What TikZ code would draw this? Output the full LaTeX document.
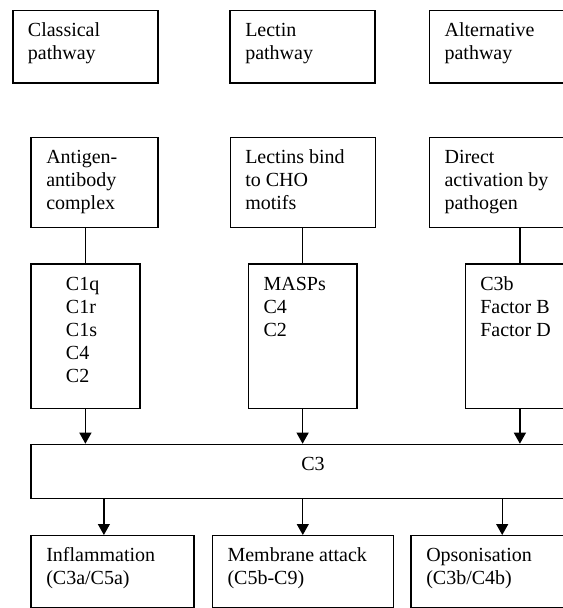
\documentclass[tikz,border=0pt]{standalone}
\usepackage{fontspec}
\setmainfont{Liberation Serif}
\usetikzlibrary{arrows.meta}
\newdimen\pxu
\pxu=0.75pt
\tikzset{
  box/.style={draw, line width=0.9pt, inner sep=0pt, anchor=north west},
  txt/.style={anchor=north west, inner sep=0pt, align=left, font=\fontsize{15pt}{17.25pt}\selectfont},
  conn/.style={line width=0.9pt},
  arr/.style={line width=0.9pt, -{Triangle[width=9pt,length=8.25pt]}},
}
\newcommand{\fl}{\rule{0pt}{12pt}}
\begin{document}
\begin{tikzpicture}[x=0.75pt,y=-0.75pt]
\useasboundingbox (0,0) rectangle (563,608);
\clip (0,0) rectangle (563,608);
% row 1
\node[box, minimum width=145\pxu, minimum height=72.6\pxu] (classical) at (12.3,9.7) {};
\node[box, minimum width=145\pxu, minimum height=72.6\pxu] (lectin) at (229.3,9.7) {};
\node[box, minimum width=145\pxu, minimum height=72.6\pxu] (alternative) at (428.7,9.7) {};
\node[txt] (tclassical) at (27.7,20) {\fl Classical\\pathway};
\node[txt] (tlectin) at (245,20) {\fl Lectin\\pathway};
\node[txt] (talternative) at (444.3,20) {\fl Alternative\\pathway};
% row 2
\node[box, minimum width=127\pxu, minimum height=90\pxu] (antigen) at (30.3,136.7) {};
\node[box, minimum width=145\pxu, minimum height=90\pxu] (lectins) at (229.7,136.7) {};
\node[box, minimum width=145\pxu, minimum height=90\pxu] (direct) at (428.7,136.7) {};
\node[txt] (tantigen) at (46,147.3) {\fl Antigen-\\antibody\\complex};
\node[txt] (tlectins) at (245,147.3) {\fl Lectins bind\\to CHO\\motifs};
\node[txt] (tdirect) at (444.3,147.3) {\fl Direct\\activation by\\pathogen};
% row 3
\node[box, minimum width=109\pxu, minimum height=144.4\pxu] (c1q) at (30.3,263.3) {};
\node[box, minimum width=108.6\pxu, minimum height=144.4\pxu] (masps) at (247.7,263.3) {};
\node[box, minimum width=108.6\pxu, minimum height=144.4\pxu] (c3b) at (465,263.3) {};
\node[txt] (tc1q) at (65.7,274.5) {\fl C1q\\C1r\\C1s\\C4\\C2};
\node[txt] (tmasps) at (263.3,274.5) {\fl MASPs\\C4\\C2};
\node[txt] (tc3b) at (480,274.5) {\fl C3b\\Factor B\\Factor D};
% C3
\node[box, minimum width=565.7\pxu, minimum height=54.3\pxu] (c3) at (30.3,443.7) {};
\node[anchor=base, inner sep=0pt, font=\fontsize{15pt}{17.25pt}\selectfont] (tc3) at (313,470.7) {C3};
% row 4
\node[box, minimum width=163\pxu, minimum height=71.6\pxu] (infl) at (30.3,535) {};
\node[box, minimum width=181\pxu, minimum height=71.6\pxu] (memb) at (211.7,535) {};
\node[box, minimum width=182.4\pxu, minimum height=71.6\pxu] (opso) at (410.4,535) {};
\node[txt] (tinfl) at (46,545) {\fl Inflammation\\(C3a/C5a)};
\node[txt] (tmemb) at (227.3,545) {\fl Membrane attack\\(C5b-C9)};
\node[txt] (topso) at (426,545) {\fl Opsonisation\\(C3b/C4b)};
% connectors
\draw[conn] (antigen.south -| c1q.north) -- (c1q.north);
\draw[conn] (lectins.south -| masps.north) -- (masps.north);
\draw[conn] (direct.south -| c3b.north) -- (c3b.north);
\draw[arr] (c1q.south) -- (c1q.south |- c3.north);
\draw[arr] (masps.south) -- (masps.south |- c3.north);
\draw[arr] (c3b.south) -- (c3b.south |- c3.north);
\draw[arr] ([xshift=-6.375pt]infl.north |- c3.south) -- ([xshift=-6.375pt]infl.north);
\draw[arr] (memb.north |- c3.south) -- (memb.north);
\draw[arr] (opso.north |- c3.south) -- (opso.north);
\end{tikzpicture}
\end{document}
